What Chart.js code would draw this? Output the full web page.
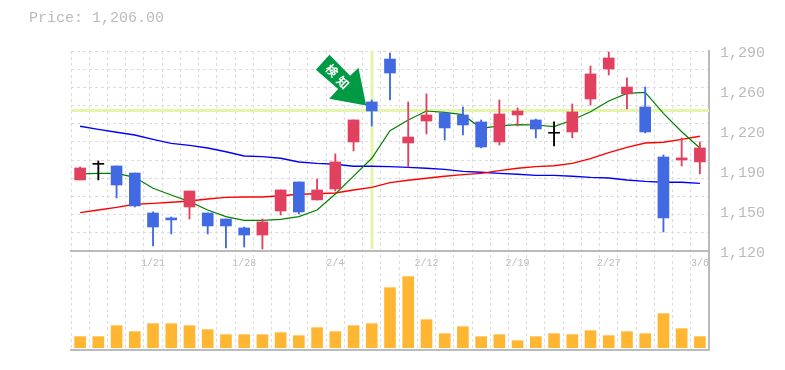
<!DOCTYPE html>
<html>
<head>
<meta charset="utf-8">
<style>html,body{margin:0;padding:0;background:#fff}canvas{display:block}</style>
<script src="https://cdn.jsdelivr.net/npm/chart.js@4"></script>
</head>
<body>
<canvas id="c" width="785" height="370"></canvas>
<script>
const dateLabels = ['','','','','1/21','','','','','1/28','','','','','2/4','','','','','2/12','','','','','2/19','','','','','2/27','','','','','3/6'];
const opens  = [1180.4,1193.7,1192.3,1186.3,1152.3,1148.1,1157.4,1152.3,1147.2,1139.6,1133.6,1154.0,1178.7,1163.4,1172.7,1212.7,1246.7,1283.2,1211.8,1230.5,1237.3,1235.6,1229.7,1212.7,1235.6,1231.4,1220.1,1221.2,1249.2,1274.7,1253.5,1242.4,1199.9,1197.4,1195.7];
const closes = [1190.6,1193.7,1176.1,1158.3,1140.4,1146.4,1171.0,1141.3,1141.3,1133.6,1144.7,1171.9,1153.2,1171.9,1195.7,1231.4,1239.0,1271.3,1216.9,1235.6,1224.6,1227.1,1208.4,1236.5,1239.0,1223.7,1220.1,1238.2,1270.5,1284.1,1259.4,1221.2,1148.1,1199.1,1207.6];
const highs  = [1191.4,1196.5,1192.3,1186.3,1153.2,1148.9,1171.0,1152.3,1147.2,1140.4,1147.2,1171.9,1178.7,1181.2,1202.5,1231.4,1248.4,1288.3,1246.7,1253.5,1237.3,1242.4,1231.4,1248.4,1241.6,1232.2,1229.7,1245.0,1277.3,1289.2,1267.1,1259.4,1201.6,1216.1,1212.7];
const lows   = [1180.4,1180.4,1165.1,1157.4,1124.3,1134.5,1147.2,1134.5,1122.6,1123.4,1121.7,1150.6,1151.5,1163.4,1171.0,1205.0,1226.3,1248.4,1191.4,1219.5,1214.4,1218.6,1207.6,1210.1,1226.3,1216.1,1209.3,1216.1,1244.1,1269.6,1240.7,1220.3,1136.2,1192.3,1185.5];
const maShort = [1185.5,1186,1186,1182.6,1173.3,1167.6,1162,1154.9,1149.2,1146.1,1146.1,1146.9,1149.2,1154.9,1168.5,1183.7,1198.8,1222.3,1231.4,1239,1237.9,1235.9,1224.3,1226.3,1227.4,1227.1,1225.7,1231.4,1238.4,1247.5,1254,1254.9,1237,1221.4,1207.6];
const maMid = [1152.6,1154.9,1157.1,1159.7,1160.5,1161.4,1162.5,1164.2,1165.6,1165.9,1165.9,1167,1168.2,1168.7,1169.3,1171.9,1174.1,1178.1,1180.1,1181.8,1183.5,1184.9,1186,1188.3,1190.3,1191.7,1192.5,1194.5,1198.5,1203.6,1208.1,1211.8,1212.4,1214.9,1217.5];
const maLong = [1226,1223.4,1220.9,1218.6,1214.9,1211.5,1209.8,1207.6,1204.4,1200.8,1200.2,1198.8,1195.7,1194.5,1193.7,1192,1192,1191.7,1191.1,1190.3,1189.4,1187.7,1186.9,1186,1185.2,1184.3,1184.3,1183.5,1182.6,1182.1,1180.4,1179.2,1178.4,1178.4,1177.5];
const volumes = [33,33,66,48,72,72,66,54,39,39,39,45,36,60,48,66,72,180,213,84,42,63,33,39,21,33,42,39,51,36,48,42,102,57,33];
const priceTicks = [1120,1154,1188,1222,1256,1290];
const highlightPrice = 1240;
const highlightIndex = 16;
const priceText = 'Price: 1,206.00';
const markerText = ['検','知'];

const RED='#e2405f', BLUE='#4169e1', BLACK='#000000';
const candleColor = opens.map((o,i)=> (i===1||i===26) ? BLACK : (closes[i]>=o ? RED : BLUE));
const MONO = '"Liberation Mono", monospace';

const underlay = {
  id:'underlay',
  beforeDatasetsDraw(ch){
    const {ctx,chartArea:a,scales:{x,y}} = ch;
    ctx.save();
    ctx.fillStyle='#e4f5ab';
    const py=y.getPixelForValue(highlightPrice), px=Math.round(x.getPixelForValue(highlightIndex));
    ctx.fillRect(a.left,Math.round(py)-1,a.right-a.left,3);
    ctx.fillRect(px-1.5,y.top,3,y.bottom-y.top-2);
    ctx.restore();
  }
};
const marker = {
  id:'marker',
  afterDatasetsDraw(ch){
    const {ctx,scales:{x,y}} = ch;
    const tx=x.getPixelForValue(highlightIndex)-5.6, ty=y.getPixelForValue(highlightPrice)-4.4;
    const shape=[[0,0],[-7.7,-37.7],[-16,-29.7],[-36.7,-50.7],[-50.3,-35.7],[-28,-16.4],[-37,-6.7]];
    ctx.save();
    ctx.fillStyle='#009944';
    ctx.beginPath();
    shape.forEach((p,i)=> i?ctx.lineTo(tx+p[0],ty+p[1]):ctx.moveTo(tx+p[0],ty+p[1]));
    ctx.closePath();ctx.fill();
    ctx.fillStyle='#fff';
    ctx.font='bold 12px "Noto Sans CJK JP"';
    ctx.textAlign='center';ctx.textBaseline='middle';
    [[-34.3,-35],[-23.3,-23]].forEach((p,i)=>{
      ctx.save();ctx.translate(tx+p[0],ty+p[1]);ctx.rotate(Math.PI/4);
      ctx.fillText(markerText[i],0,0);ctx.restore();
    });
    ctx.restore();
  }
};

new Chart(document.getElementById('c'),{
  data:{
    labels:dateLabels,
    datasets:[
      {type:'bar',yAxisID:'y',order:1,grouped:false,barThickness:11,
       data:opens.map((o,i)=>o===closes[i]?[o,o+.8]:[o,closes[i]]),backgroundColor:candleColor},
      {type:'bar',yAxisID:'y',order:2,grouped:false,barThickness:1.2,
       data:lows.map((l,i)=>[l,highs[i]]),backgroundColor:candleColor},
      {type:'line',yAxisID:'y',order:3,data:maShort,borderColor:'#008000',borderWidth:1.2,pointRadius:0,tension:0},
      {type:'line',yAxisID:'y',order:3,data:maMid,borderColor:'#ff0000',borderWidth:1.4,pointRadius:0,tension:0},
      {type:'line',yAxisID:'y',order:3,data:maLong,borderColor:'#0000ff',borderWidth:1.4,pointRadius:0,tension:0},
      {type:'bar',yAxisID:'vol',order:4,grouped:false,barThickness:11,data:volumes,backgroundColor:'#ffb733'}
    ]
  },
  options:{
    responsive:false,animation:false,
    layout:{padding:{left:29,right:0,top:0,bottom:0}},
    events:[],
    plugins:{
      legend:{display:false},tooltip:{enabled:false},
      title:{display:true,text:priceText,align:'start',color:'#bbbbbb',
        font:{family:MONO,size:15,weight:'normal'},padding:{top:9,bottom:24}}
    },
    scales:{
      x:{type:'category',position:{vol:290},offset:true,
        grid:{color:'#dddddd',lineWidth:1,offset:true,drawTicks:false},
        border:{display:true,color:'#bbbbbb',width:2,dash:[3,3]},
        ticks:{autoSkip:false,maxRotation:0,minRotation:0,color:'#bbbbbb',padding:6,font:{family:MONO,size:10}}},
      xBase:{type:'category',position:'bottom',offset:true,
        grid:{display:false},border:{display:true,color:'#bbbbbb',width:2},
        ticks:{display:false},afterFit(s){s.height=20;}},
      yGap:{type:'linear',position:'left',grid:{display:false},border:{display:false},
        ticks:{display:false},afterFit(s){s.width=42;}},
      y:{type:'linear',position:'right',stack:'panels',stackWeight:200,weight:1,min:1120,max:1290,
        afterBuildTicks(s){
          const grid=[];const n=11;
          for(let k=0;k<=n;k++)grid.push({value:1120+k*170/n,line:true});
          s.ticks=grid.concat(priceTicks.slice(1,-1).map(v=>({value:v,line:false})));
        },
        afterFit(s){s.width=76;},
        grid:{color:c=>c.tick&&c.tick.line?'#dddddd':'rgba(0,0,0,0)',lineWidth:1,drawTicks:false},
        border:{display:true,color:'#bbbbbb',width:2,dash:[3,3]},
        ticks:{autoSkip:false,crossAlign:'near',padding:11,labelOffset:2,color:'#bbbbbb',font:{family:MONO,size:15},
          callback(v){return priceTicks.includes(v)?(Math.round(v/10)*10).toLocaleString('en-US'):'';}}},
      vol:{type:'linear',position:'right',stack:'panels',stackWeight:99,weight:2,min:-7,max:290,
        afterFit(s){s.width=76;},
        grid:{display:false},border:{display:true,color:'#bbbbbb',width:2},ticks:{display:false}}
    }
  },
  plugins:[underlay,marker]
});
</script>
</body>
</html>
